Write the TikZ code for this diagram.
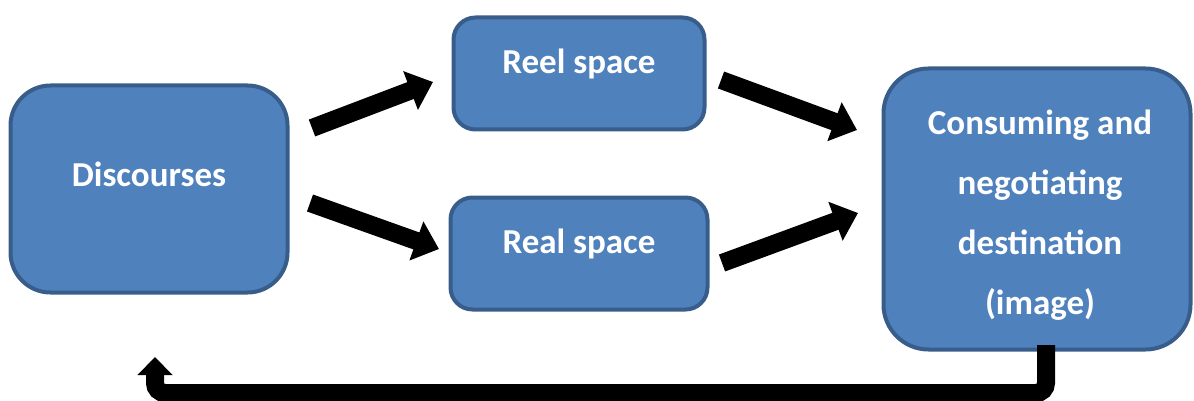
\documentclass[tikz,border=0pt]{standalone}
\usepackage{fontspec}
\setmainfont{Carlito}
\usetikzlibrary{arrows.meta}
\definecolor{boxfill}{HTML}{4F81BD}
\definecolor{boxline}{HTML}{385D8A}
\tikzset{
  box/.style={draw=boxline, fill=boxfill, line width=4pt, rectangle, inner sep=0pt},
  boxtext/.style={text=white, font=\fontsize{35}{60}\selectfont\bfseries, align=center, inner sep=0pt},
  fat/.style={line width=18pt, -{Triangle[width=40pt,length=24pt]}},
  back/.style={line width=18pt, rounded corners=10pt, -{Triangle[width=34pt,length=18pt]}}
}
\begin{document}
\begin{tikzpicture}[x=1pt,y=-1pt]
\useasboundingbox (0,0) rectangle (1194,401);
\node[box, rounded corners=40pt, minimum width=277pt, minimum height=207pt] (disc) at (149,189) {};
\node[box, rounded corners=22pt, minimum width=251pt, minimum height=112pt] (reel) at (579,73.5) {};
\node[box, rounded corners=22pt, minimum width=257pt, minimum height=112pt] (real) at (579,253.5) {};
\node[box, rounded corners=45pt, minimum width=307pt, minimum height=281pt] (cons) at (1037,209) {};
\node[boxtext] (disct) at (149,174) {Discourses};
\node[boxtext] (reelt) at (579,64) {Reel space};
\node[boxtext] (realt) at (579,244) {Real space};
\node[boxtext] (const) at (1040,215) {Consuming and\\negotiating\\destination\\(image)};
\coordinate (a1s) at (312,128); \coordinate (a1e) at (433,82);
\coordinate (a2s) at (310,203); \coordinate (a2e) at (439,249);
\coordinate (a3s) at (721,80);  \coordinate (a3e) at (857,130);
\coordinate (a4s) at (722,263); \coordinate (a4e) at (858,213);
\draw[fat] (a1s) -- (a1e);
\draw[fat] (a2s) -- (a2e);
\draw[fat] (a3s) -- (a3e);
\draw[fat] (a4s) -- (a4e);
\coordinate (bs) at (1046,345);
\coordinate (be) at (155,357);
\draw[back] (bs) -- (1046,393) -- (155,393) -- (be);
\end{tikzpicture}
\end{document}
